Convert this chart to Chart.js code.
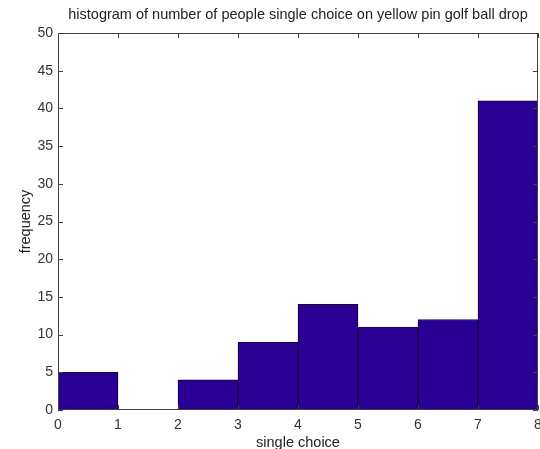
<!DOCTYPE html>
<html>
<head>
<meta charset="utf-8">
<script src="https://cdn.jsdelivr.net/npm/chart.js@4/dist/chart.umd.min.js"></script>
<style>
  html, body { margin: 0; padding: 0; background: #fff; }
  #wrap { width: 540px; height: 449px; }
</style>
</head>
<body>
<div id="wrap"><canvas id="histo" width="540" height="449"></canvas></div>
<script>
// bords des classes et effectifs
const binEdges = [0, 1, 2, 3, 4, 5, 6, 7, 8];
const counts = [5, 0, 4, 9, 14, 11, 12, 41];
const yTicks = [0, 5, 10, 15, 20, 25, 30, 35, 40, 45, 50];
const titre = 'histogram of number of people single choice on yellow pin golf ball drop';

const barColor = 'rgb(42,0,148)';
const axisColor = '#404040';
const fontFamily = 'Helvetica, "Liberation Sans", Arial, sans-serif';

// cadre + graduations vers l'intérieur (style matlab) + titre centré sur la zone du graphe
const cadre = {
    id: 'cadre',
    afterDatasetsDraw(chart) {
        const { ctx, chartArea: a, scales } = chart;
        const len = 5;
        ctx.save();
        ctx.strokeStyle = axisColor;
        ctx.lineWidth = 1;
        ctx.strokeRect(a.left + 0.5, a.top + 0.5, a.right - a.left - 1, a.bottom - a.top - 1);
        ctx.beginPath();
        binEdges.forEach(v => {
            const x = Math.round(scales.x.getPixelForValue(v)) + 0.5;
            ctx.moveTo(x, a.bottom); ctx.lineTo(x, a.bottom - len);
            ctx.moveTo(x, a.top); ctx.lineTo(x, a.top + len);
        });
        yTicks.forEach(v => {
            const y = Math.round(scales.y.getPixelForValue(v)) + 0.5;
            ctx.moveTo(a.left, y); ctx.lineTo(a.left + len, y);
            ctx.moveTo(a.right, y); ctx.lineTo(a.right - len, y);
        });
        ctx.stroke();

        ctx.fillStyle = '#222';
        ctx.font = '14.5px ' + fontFamily;
        ctx.textAlign = 'center';
        ctx.textBaseline = 'middle';
        ctx.fillText(titre, (a.left + a.right) / 2, 15);
        ctx.restore();
    }
};

function dessiner() {
    const points = counts.map((c, i) => ({ x: (binEdges[i] + binEdges[i + 1]) / 2, y: c }));

    new Chart(document.getElementById('histo'), {
        type: 'bar',
        data: {
            datasets: [{
                data: points,
                backgroundColor: barColor,
                borderColor: '#1a0040',
                borderWidth: 1,
                barPercentage: 1,
                categoryPercentage: 1
            }]
        },
        options: {
            responsive: false,
            animation: false,
            layout: { padding: { left: 0, right: 2, top: 33, bottom: 0 } },
            plugins: {
                legend: { display: false },
                tooltip: { enabled: false },
                title: { display: false }
            },
            scales: {
                x: {
                    type: 'linear',
                    min: 0,
                    max: 8,
                    offset: false,
                    grid: { display: false, drawTicks: false },
                    border: { display: false },
                    afterBuildTicks: s => { s.ticks = binEdges.map(v => ({ value: v })); },
                    afterFit: s => { s.height = 39; s.paddingLeft = 0; s.paddingRight = 0; },
                    ticks: {
                        color: '#333',
                        padding: 7,
                        maxRotation: 0,
                        font: { family: fontFamily, size: 14 }
                    },
                    title: {
                        display: true,
                        text: 'single choice',
                        color: '#222',
                        font: { family: fontFamily, size: 14.5 },
                        padding: { top: 2, bottom: -3 }
                    }
                },
                y: {
                    min: 0,
                    max: 50,
                    grid: { display: false, drawTicks: false },
                    border: { display: false },
                    afterBuildTicks: s => { s.ticks = yTicks.map(v => ({ value: v })); },
                    afterFit: s => { s.width = 58; },
                    ticks: {
                        color: '#333',
                        padding: 5,
                        font: { family: fontFamily, size: 14 }
                    },
                    title: {
                        display: true,
                        text: 'frequency',
                        color: '#222',
                        font: { family: fontFamily, size: 14.5 },
                        padding: { top: 17, bottom: 0 }
                    }
                }
            }
        },
        plugins: [cadre]
    });
}

window.onload = dessiner;
</script>
</body>
</html>
